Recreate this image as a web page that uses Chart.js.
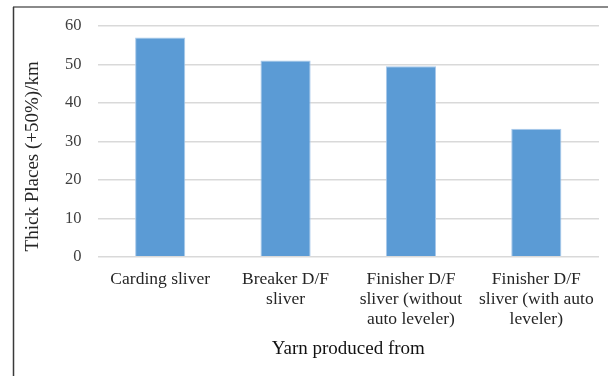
<!DOCTYPE html>
<html>
<head>
<meta charset="utf-8">
<script src="https://cdn.jsdelivr.net/npm/chart.js@4/dist/chart.umd.min.js"></script>
<style>
  html, body { margin: 0; padding: 0; background: #fff; }
  #wrap { width: 608px; height: 376px; position: relative; }
</style>
</head>
<body>
<div id="wrap"><canvas id="c" width="608" height="376"></canvas></div>
<script>
// Thick places (+50%) per km by sliver source
const categories = [
  ['Carding sliver'],
  ['Breaker D/F', 'sliver'],
  ['Finisher D/F', 'sliver (without', 'auto leveler)'],
  ['Finisher D/F', 'sliver (with auto', 'leveler)']
];
const thickPlaces = [57, 51, 49.5, 33.3];
const yTicks = [0, 10, 20, 30, 40, 50, 60];
const xTitle = 'Yarn produced from';
const yTitle = 'Thick Places (+50%)/km';

const serif = "'Liberation Serif', 'Times New Roman', serif";

// Frame lines and rotated y title
const framePlugin = {
  id: 'frame',
  afterDraw(chart) {
    const ctx = chart.ctx;
    const area = chart.chartArea;
    ctx.save();
    ctx.strokeStyle = '#8a8a8a';
    ctx.lineWidth = 2;
    ctx.beginPath();
    ctx.moveTo(13, 7);
    ctx.lineTo(608, 7);
    ctx.stroke();
    ctx.strokeStyle = '#3a3a3a';
    ctx.lineWidth = 1.5;
    ctx.beginPath();
    ctx.moveTo(13.5, 7);
    ctx.lineTo(13.5, 376);
    ctx.stroke();

    ctx.translate(33, (area.top + area.bottom) / 2 + 15);
    ctx.rotate(-Math.PI / 2);
    ctx.fillStyle = '#262626';
    ctx.font = '19px ' + serif;
    ctx.textAlign = 'center';
    ctx.textBaseline = 'middle';
    ctx.fillText(yTitle, 0, 0);
    ctx.restore();
  }
};

new Chart(document.getElementById('c'), {
  type: 'bar',
  data: {
    labels: categories,
    datasets: [{
      data: thickPlaces,
      backgroundColor: '#5b9bd5',
      borderColor: '#a9c9ea',
      borderWidth: 1,
      categoryPercentage: 1,
      barPercentage: 0.4
    }]
  },
  options: {
    responsive: false,
    animation: false,
    devicePixelRatio: 1,
    layout: { padding: { left: 49, right: 9, top: 22, bottom: 17 } },
    plugins: {
      legend: { display: false },
      tooltip: { enabled: false }
    },
    scales: {
      x: {
        grid: { display: false },
        border: { display: false },
        ticks: {
          color: '#262626',
          font: { family: serif, size: 17.5, lineHeight: 1.13 },
          padding: 5,
          maxRotation: 0,
          autoSkip: false
        },
        title: {
          display: true,
          text: xTitle,
          color: '#111',
          font: { family: serif, size: 19, lineHeight: 1.1 },
          padding: { top: 4, bottom: 0 }
        }
      },
      y: {
        min: 0,
        max: 60,
        afterBuildTicks(scale) {
          scale.ticks = yTicks.map(v => ({ value: v }));
        },
        grid: { color: '#d9d9d9', lineWidth: 1.5, drawTicks: false },
        border: { display: false },
        ticks: {
          color: '#404040',
          font: { family: serif, size: 16.5 },
          padding: 16
        }
      }
    }
  },
  plugins: [framePlugin]
});
</script>
</body>
</html>
